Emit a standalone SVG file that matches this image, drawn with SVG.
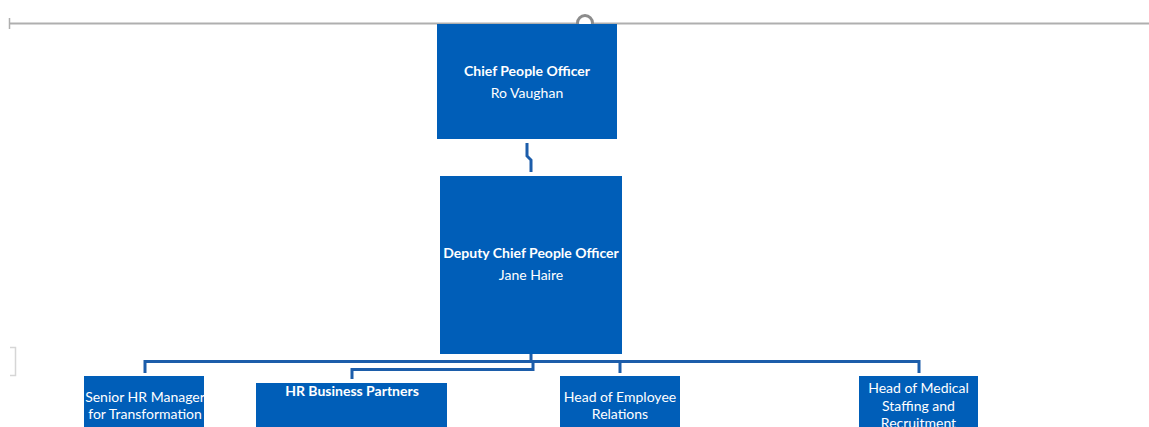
<svg xmlns="http://www.w3.org/2000/svg" width="1149" height="427" viewBox="0 0 1149 427">
<style>
.box{fill:#005EB8}
.t{font-family:Lato,"Open Sans","Liberation Sans",sans-serif;fill:#ffffff;text-anchor:middle}
.b{font-weight:bold;font-size:14px}
.r{font-size:14px}
.c{fill:none;stroke:#1C5DAA;stroke-width:3}
</style>
<defs>
<clipPath id="c1"><rect x="84" y="376" width="120" height="51"/></clipPath>
</defs>
<g id="ruler">
<line x1="9" y1="23.5" x2="1149" y2="23.5" stroke="#AFAFAF" stroke-width="2"/>
<line x1="9.5" y1="18" x2="9.5" y2="29" stroke="#AFAFAF" stroke-width="1.5"/>
<circle cx="585" cy="23" r="7.5" fill="#ffffff" stroke="#8C8C8C" stroke-width="3"/>
</g>
<g id="bracket"><path d="M10,347.5 H15.5 V375.5 H10" fill="none" stroke="#D6D6D6" stroke-width="1.5"/></g>
<g id="connectors">
<path class="c" d="M527,143 V156 L531,160 V172"/>
<path class="c" d="M531,354 V361 M145,373 V361.5 H919 V373 M620,361.5 V373"/>
<path class="c" d="M352,379 V369.5 H533 V361"/>
</g>
<g id="n-cpo">
<rect class="box" x="437" y="24" width="180" height="115"/>
<text class="t b" x="527" y="76">Chief People Officer</text>
<text class="t r" x="527" y="98">Ro Vaughan</text>
</g>
<g id="n-dcpo">
<rect class="box" x="440" y="176" width="182" height="178"/>
<text class="t b" x="531" y="258">Deputy Chief People Officer</text>
<text class="t r" x="531" y="280">Jane Haire</text>
</g>
<g id="n-senior">
<rect class="box" x="84" y="376" width="120" height="51"/>
<g clip-path="url(#c1)">
<text class="t r" x="145" y="402">Senior HR Manager</text>
<text class="t r" x="145" y="419">for Transformation</text>
</g>
</g>
<g id="n-hrbp">
<rect class="box" x="256" y="383" width="191" height="44"/>
<text class="t b" x="352" y="395.5">HR Business Partners</text>
</g>
<g id="n-er">
<rect class="box" x="560" y="376" width="120" height="51"/>
<text class="t r" x="620" y="402">Head of Employee</text>
<text class="t r" x="620" y="419">Relations</text>
</g>
<g id="n-med">
<rect class="box" x="859" y="376" width="119" height="51"/>
<text class="t r" x="918.5" y="393">Head of Medical</text>
<text class="t r" x="918.5" y="410.5">Staffing and</text>
<text class="t r" x="918.5" y="428">Recruitment</text>
</g>
</svg>
